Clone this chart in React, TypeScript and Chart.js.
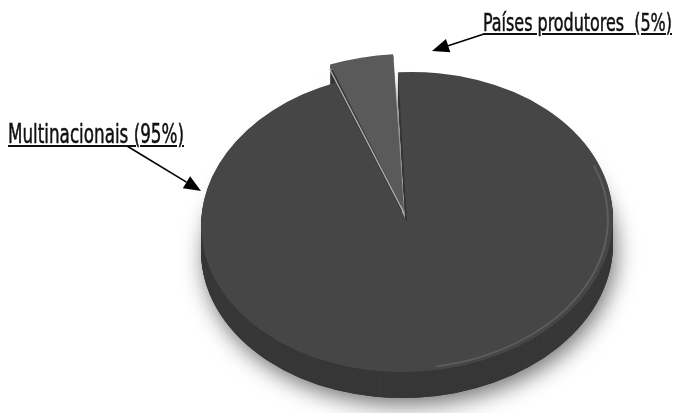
import React, { useEffect, useLayoutEffect, useRef } from 'react';
import { Chart, registerables } from 'chart.js';

Chart.register(...registerables);

// ---- data ----
const categories = ['Países produtores', 'Multinacionais'];
const shares = [5, 95];
const labelTexts = ['Países produtores  (5%)', 'Multinacionais (95%)'];

// ---- styles ----
const topColors = ['#5a5a5a', '#464646'];
const sideColors = ['#333333', '#373737'];
const sliceOffsets = [60, 0];
const TILT_K = 0.728;
const TILT_ROT = -0.035;
const DEPTH = 26;

function applyTilt(ctx: CanvasRenderingContext2D, cx: number, cy: number, dy: number) {
  ctx.translate(cx, cy + dy);
  ctx.rotate(TILT_ROT);
  ctx.scale(1, TILT_K);
  ctx.translate(-cx, -cy);
}

function arcPath(ctx: CanvasRenderingContext2D, el: any) {
  const p = el.getProps(['x', 'y', 'startAngle', 'endAngle', 'outerRadius'], true);
  const off = ((el.options && el.options.offset) || 0) / 4;
  const circ = p.endAngle - p.startAngle;
  const fix = 1 - Math.sin(Math.min(Math.PI, circ));
  const d = off * (1 + fix);
  const mid = (p.startAngle + p.endAngle) / 2;
  const x = p.x + Math.cos(mid) * d;
  const y = p.y + Math.sin(mid) * d;
  ctx.beginPath();
  ctx.moveTo(x, y);
  ctx.arc(x, y, p.outerRadius, p.startAngle, p.endAngle);
  ctx.closePath();
}

function drawArrow(ctx: CanvasRenderingContext2D, x1: number, y1: number, x2: number, y2: number) {
  const ang = Math.atan2(y2 - y1, x2 - x1);
  const head = 17;
  const half = 7;
  const bx = x2 - Math.cos(ang) * head;
  const by = y2 - Math.sin(ang) * head;
  ctx.save();
  ctx.strokeStyle = '#000';
  ctx.lineWidth = 1.6;
  ctx.beginPath();
  ctx.moveTo(x1, y1);
  ctx.lineTo(bx, by);
  ctx.stroke();
  ctx.fillStyle = '#000';
  ctx.beginPath();
  ctx.moveTo(x2, y2);
  ctx.lineTo(bx + Math.sin(ang) * half, by - Math.cos(ang) * half);
  ctx.lineTo(bx - Math.sin(ang) * half, by + Math.cos(ang) * half);
  ctx.closePath();
  ctx.fill();
  ctx.restore();
}

const pie3d = {
  id: 'pie3d',
  beforeDatasetsDraw(chart: any) {
    const ctx: CanvasRenderingContext2D = chart.ctx;
    const els = chart.getDatasetMeta(0).data;
    const cx = els[0].x;
    const cy = els[0].y;
    ctx.save();
    // soft shadow
    ctx.save();
    applyTilt(ctx, cx, cy, DEPTH);
    ctx.shadowColor = 'rgba(0,0,0,0.55)';
    ctx.shadowBlur = 22;
    ctx.shadowOffsetX = 3;
    ctx.shadowOffsetY = 7;
    els.forEach((el: any, i: number) => {
      arcPath(ctx, el);
      ctx.fillStyle = sideColors[i];
      ctx.fill();
    });
    ctx.restore();
    // sides
    for (let t = DEPTH; t >= 1; t--) {
      ctx.save();
      applyTilt(ctx, cx, cy, t);
      els.forEach((el: any, i: number) => {
        arcPath(ctx, el);
        ctx.fillStyle = sideColors[i];
        ctx.fill();
      });
      ctx.restore();
    }
    // slice side edge highlight
    ctx.save();
    applyTilt(ctx, cx, cy, 5);
    arcPath(ctx, els[0]);
    ctx.strokeStyle = 'rgba(185,185,185,0.9)';
    ctx.lineWidth = 1.5;
    ctx.stroke();
    ctx.restore();
    // top face transform, used by the library's own drawing
    applyTilt(ctx, cx, cy, 0);
  },
  afterDatasetsDraw(chart: any) {
    const ctx: CanvasRenderingContext2D = chart.ctx;
    const els = chart.getDatasetMeta(0).data;
    const main = els[1];
    // subtle rim bevel on the main top face
    ctx.beginPath();
    ctx.arc(main.x, main.y, main.outerRadius - 5, -0.35, 1.45);
    ctx.strokeStyle = 'rgba(255,255,255,0.13)';
    ctx.lineWidth = 2;
    ctx.stroke();
    ctx.restore();
  },
  afterDraw(chart: any) {
    const ctx: CanvasRenderingContext2D = chart.ctx;
    drawArrow(ctx, 127, 146, 201, 191);
    drawArrow(ctx, 484, 34, 432, 51);
  },
};

export default function App() {
  const canvasRef = useRef<HTMLCanvasElement | null>(null);
  const l1 = useRef<HTMLSpanElement | null>(null);
  const l2 = useRef<HTMLSpanElement | null>(null);

  useEffect(() => {
    const canvas = canvasRef.current;
    if (!canvas) return;
    const chart = new Chart(canvas, {
      type: 'pie',
      data: {
        labels: categories,
        datasets: [
          {
            data: shares,
            backgroundColor: topColors,
            borderWidth: 0,
            offset: sliceOffsets,
            clip: false,
          } as any,
        ],
      },
      options: {
        responsive: false,
        animation: false,
        rotation: -19,
        radius: 206,
        layout: { padding: { left: 137, right: 0, top: 31, bottom: 0 } },
        plugins: {
          legend: { display: false },
          tooltip: { enabled: false },
        },
        events: [],
      } as any,
      plugins: [pie3d],
    });
    return () => chart.destroy();
  }, []);

  useLayoutEffect(() => {
    const fit = (el: HTMLSpanElement | null, w: number) => {
      if (!el) return;
      el.style.transform = 'none';
      const cur = el.getBoundingClientRect().width;
      if (cur > 0) el.style.transform = `scaleX(${w / cur})`;
    };
    fit(l1.current, 189);
    fit(l2.current, 176);
  }, []);

  const labelStyle: React.CSSProperties = {
    position: 'absolute',
    fontFamily: "'Liberation Sans Narrow', 'DejaVu Sans Condensed', 'Liberation Sans', sans-serif",
    lineHeight: 'normal',
    color: '#111',
    whiteSpace: 'pre',
    textDecoration: 'underline',
    textDecorationThickness: '1.6px',
    textUnderlineOffset: '2px',
    WebkitTextStroke: '0.5px #111',
    transformOrigin: '0 0',
  };

  return (
    <div style={{ position: 'absolute', left: 0, top: 0, width: 677, height: 413, background: '#fff', overflow: 'hidden' }}>
      <canvas ref={canvasRef} width={677} height={413} style={{ display: 'block' }} />
      <span ref={l1} style={{ ...labelStyle, fontSize: '24px', left: 483, top: 9 }}>{labelTexts[0]}</span>
      <span ref={l2} style={{ ...labelStyle, fontSize: '26px', left: 8, top: 119 }}>{labelTexts[1]}</span>
    </div>
  );
}
